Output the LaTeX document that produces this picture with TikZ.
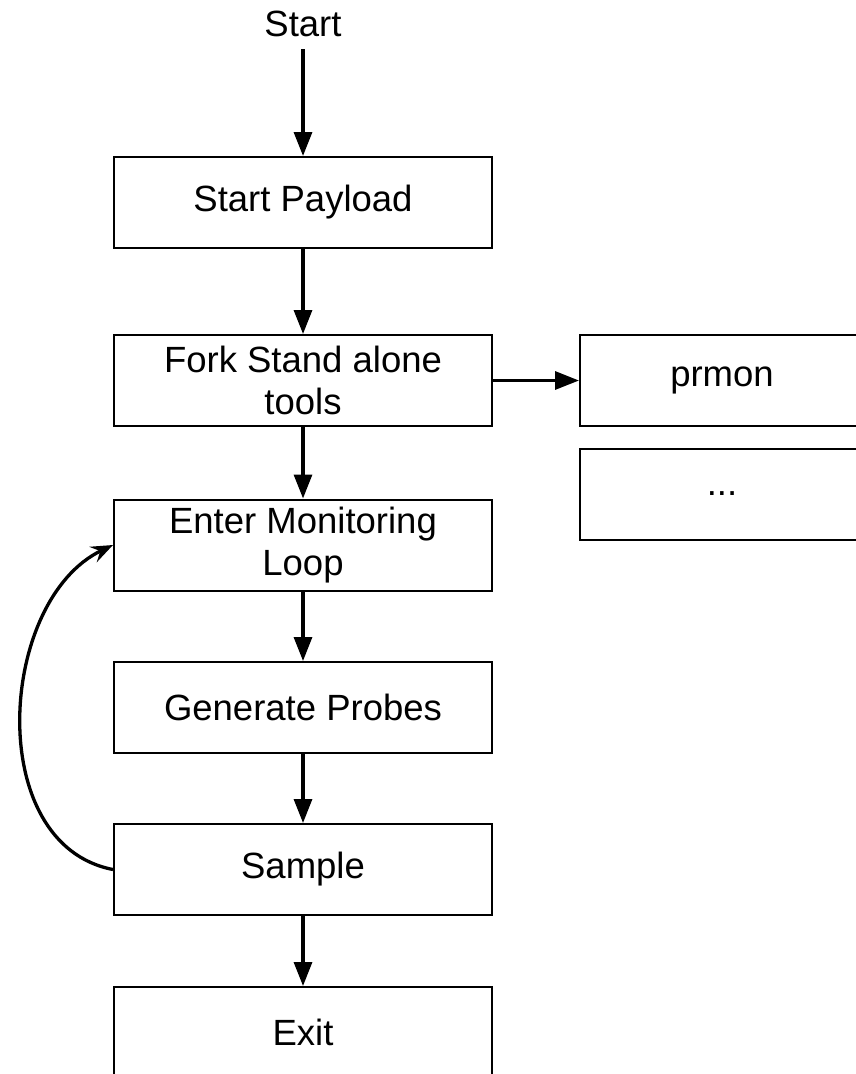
\documentclass[tikz,border=0pt]{standalone}
\usepackage{fontspec}
\setmainfont{Liberation Sans}
\usetikzlibrary{arrows.meta}

\begin{document}
\begin{tikzpicture}[x=1pt, y=-1pt,
  every node/.style={font=\fontsize{36.5}{42}\selectfont},
  stepbox/.style={draw, line width=2pt, minimum width=378pt, minimum height=91pt,
    inner sep=0pt, align=center},
  toolbox/.style={draw, line width=2pt, minimum width=284pt, minimum height=91pt,
    inner sep=0pt, align=center},
  flow/.style={line width=3.3pt, -{Triangle[length=24pt, width=18pt]}},
  loopback/.style={line width=3.3pt, -{Stealth[length=22pt, width=17pt, inset=8pt]}}
]
  \useasboundingbox (0,0) rectangle (856,1074);
  \clip (0,0) rectangle (856,1074);

  % main flow
  \node[inner xsep=0pt, inner ysep=12pt] (start) at (303,24) {Start};
  \node[stepbox] (payload) at (303,202.5) {Start Payload};
  \node[stepbox] (fork)    at (303,380.5) {Fork Stand alone\\tools};
  \node[stepbox] (enter)   at (303,545)   {Enter Monitoring\\Loop};
  \node[stepbox] (probes)  at (303,707.5) {Generate Probes};
  \node[stepbox] (sample)  at (303,869.5) {Sample};
  \node[stepbox] (exit)    at (303,1032.5) {Exit};

  % forked tools
  \node[toolbox] (prmon) at (722,380.5) {prmon};
  \node[toolbox] (more)  at (722,494)   {...};

  % connectors
  \draw[flow] (start.south) -- (payload.north);
  \draw[flow] (payload) -- (fork);
  \draw[flow] (fork) -- (enter);
  \draw[flow] (enter) -- (probes);
  \draw[flow] (probes) -- (sample);
  \draw[flow] (sample) -- (exit);
  \draw[flow] (fork.east) -- (prmon.west);

  % monitoring loop back-edge
  \draw[loopback] (sample.west) .. controls +(-130,-25) and +(-115,55) .. (enter.west);
\end{tikzpicture}
\end{document}
